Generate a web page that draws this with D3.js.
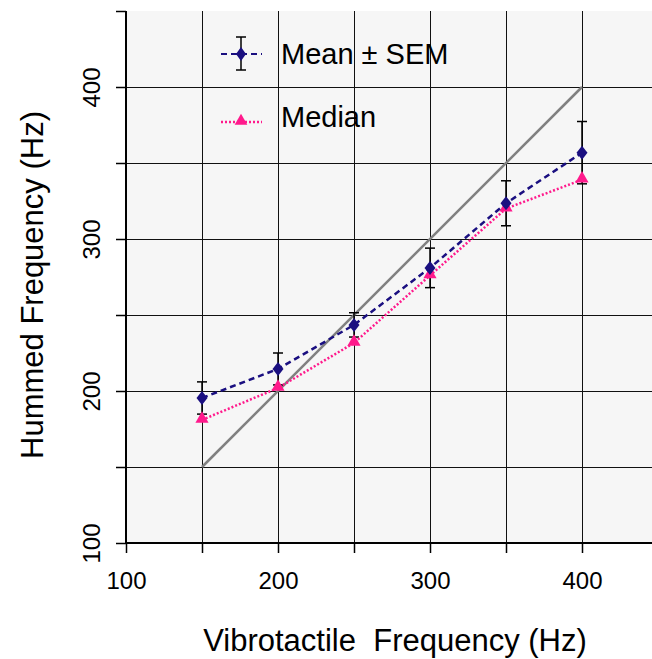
<!DOCTYPE html>
<html>
<head>
<meta charset="utf-8">
<script src="https://cdn.jsdelivr.net/npm/d3@7"></script>
<style>
  body { margin: 0; background: #fff; }
  svg { font-family: "Liberation Sans", Arial, sans-serif; }
</style>
</head>
<body>
<div id="chart"></div>
<script>
// data
const freqs = [150, 200, 250, 300, 350, 400];
const meanVals = [195.4, 214.5, 243.5, 281, 323.5, 356.8];
const semVals = [10.6, 10.5, 8, 13, 14.8, 20.5];
const medianVals = [181, 202, 231.6, 276, 320, 339];
const identity = [150, 400];
const xTicks = [100, 200, 300, 400];
const yTicks = [100, 200, 300, 400];
const xGrid = [150, 200, 250, 300, 350, 400];
const yGrid = [150, 200, 250, 300, 350, 400];

const W = 652, H = 659;
const margin = {top: 11, right: 0, bottom: 116, left: 126};
const width = W - margin.left - margin.right,
      height = H - margin.top - margin.bottom;

const svg = d3.select("#chart").append("svg")
  .attr("width", W).attr("height", H);

const x = d3.scaleLinear().domain([100, 100 + width / 1.52]).range([margin.left, W - margin.right]);
const y = d3.scaleLinear().domain([100, 100 + height / 1.52]).range([H - margin.bottom, margin.top]);

// plot background
svg.append("rect")
  .attr("x", margin.left).attr("y", margin.top)
  .attr("width", width).attr("height", height)
  .attr("fill", "#f6f6f6");

// grid
svg.append("g").selectAll("line").data(xGrid).join("line")
  .attr("x1", d => Math.round(x(d)) + 0.5).attr("x2", d => Math.round(x(d)) + 0.5)
  .attr("y1", margin.top).attr("y2", H - margin.bottom)
  .attr("stroke", "#111").attr("stroke-width", 1);
svg.append("g").selectAll("line").data(yGrid).join("line")
  .attr("y1", d => Math.round(y(d)) + 0.5).attr("y2", d => Math.round(y(d)) + 0.5)
  .attr("x1", margin.left).attr("x2", W)
  .attr("stroke", "#111").attr("stroke-width", 1);

// axes
const xAxis = svg.append("g")
  .attr("transform", `translate(0,${H - margin.bottom})`)
  .call(d3.axisBottom(x).tickValues(d3.range(100, 451, 50)).tickSize(10).tickFormat(d => xTicks.includes(d) ? d : ""));
xAxis.select(".domain").attr("stroke", "#000").attr("stroke-width", 2).attr("d", `M${margin.left},0H${W}`);
xAxis.selectAll(".tick line").attr("stroke-width", 1.5);
xAxis.selectAll(".tick text")
  .attr("font-size", 24).attr("fill", "#000")
  .attr("font-family", "Liberation Sans, Arial, sans-serif")
  .attr("y", 46).attr("dy", 0);

const yAxis = svg.append("g")
  .attr("transform", `translate(${margin.left},0)`)
  .call(d3.axisLeft(y).tickValues(d3.range(100, 451, 50)).tickSize(10).tickFormat(d => yTicks.includes(d) ? d : ""));
yAxis.select(".domain").attr("stroke", "#000").attr("stroke-width", 2).attr("d", `M0,${margin.top}V${H - margin.bottom}`);
yAxis.selectAll(".tick line").attr("stroke-width", 1.5);
// rotated y tick labels
yAxis.selectAll(".tick text")
  .attr("font-size", 24).attr("fill", "#000")
  .attr("font-family", "Liberation Sans, Arial, sans-serif")
  .attr("text-anchor", "middle")
  .attr("transform", "rotate(-90)")
  .attr("x", 0).attr("y", -26).attr("dy", 0);

// identity line
svg.append("line")
  .attr("x1", x(identity[0])).attr("y1", y(identity[0]))
  .attr("x2", x(identity[1])).attr("y2", y(identity[1]))
  .attr("stroke", "#808080").attr("stroke-width", 2.5);

const meanData = freqs.map((f, i) => ({f, v: meanVals[i], s: semVals[i]}));
const medData = freqs.map((f, i) => ({f, v: medianVals[i]}));
const line = d3.line().x(d => x(d.f)).y(d => y(d.v));

// error bars
const eb = svg.append("g").selectAll("g").data(meanData).join("g");
eb.append("line").attr("x1", d => x(d.f)).attr("x2", d => x(d.f))
  .attr("y1", d => y(d.v - d.s)).attr("y2", d => y(d.v + d.s))
  .attr("stroke", "#000").attr("stroke-width", 1.5);
eb.selectAll(".cap").data(d => [[d.f, d.v - d.s], [d.f, d.v + d.s]]).join("line")
  .attr("x1", d => x(d[0]) - 5).attr("x2", d => x(d[0]) + 5)
  .attr("y1", d => y(d[1])).attr("y2", d => y(d[1]))
  .attr("stroke", "#000").attr("stroke-width", 1.5);

const navy = "#1a0f80", pink = "#ff1a8c";

// median line + markers
svg.append("path").datum(medData).attr("d", line)
  .attr("fill", "none").attr("stroke", pink).attr("stroke-width", 2.5)
  .attr("stroke-dasharray", "2,2");
svg.append("g").selectAll("path").data(medData).join("path")
  .attr("d", d3.symbol(d3.symbolTriangle, 75))
  .attr("transform", d => `translate(${x(d.f)},${y(d.v) - 1})`)
  .attr("fill", pink);

// mean line + markers
svg.append("path").datum(meanData).attr("d", line)
  .attr("fill", "none").attr("stroke", navy).attr("stroke-width", 2.5)
  .attr("stroke-dasharray", "6,4");
svg.append("g").selectAll("path").data(meanData).join("path")
  .attr("d", "M0,-7L5.5,0L0,7L-5.5,0Z")
  .attr("transform", d => `translate(${x(d.f)},${y(d.v)})`)
  .attr("fill", navy);

// legend
const lg = svg.append("g");
lg.append("line").attr("x1", 221).attr("x2", 262).attr("y1", 54).attr("y2", 54)
  .attr("stroke", navy).attr("stroke-width", 2).attr("stroke-dasharray", "6,4");
lg.append("line").attr("x1", 241).attr("x2", 241).attr("y1", 37).attr("y2", 70)
  .attr("stroke", "#000").attr("stroke-width", 1.5);
lg.selectAll(".c").data([37, 70]).join("line")
  .attr("x1", 236).attr("x2", 246).attr("y1", d => d).attr("y2", d => d)
  .attr("stroke", "#000").attr("stroke-width", 1.5);
lg.append("path").attr("d", "M0,-7L5,0L0,7L-5,0Z").attr("transform", "translate(241,54)").attr("fill", navy);
lg.append("text").attr("x", 281).attr("y", 64).attr("font-size", 29).text("Mean ± SEM");

lg.append("line").attr("x1", 221).attr("x2", 262).attr("y1", 122).attr("y2", 122)
  .attr("stroke", pink).attr("stroke-width", 2.5).attr("stroke-dasharray", "2,2");
lg.append("path").attr("d", d3.symbol(d3.symbolTriangle, 70)).attr("transform", "translate(241,121)").attr("fill", pink);
lg.append("text").attr("x", 281).attr("y", 127).attr("font-size", 29).text("Median");

// axis titles
svg.append("text").attr("x", 395).attr("y", 651).attr("text-anchor", "middle")
  .attr("font-size", 31).style("white-space", "pre")
  .text("Vibrotactile  Frequency (Hz)");
svg.append("text").attr("transform", "translate(32,285) rotate(-90)").attr("text-anchor", "middle")
  .attr("dy", "0.35em").attr("font-size", 31).text("Hummed Frequency (Hz)");
</script>
</body>
</html>
